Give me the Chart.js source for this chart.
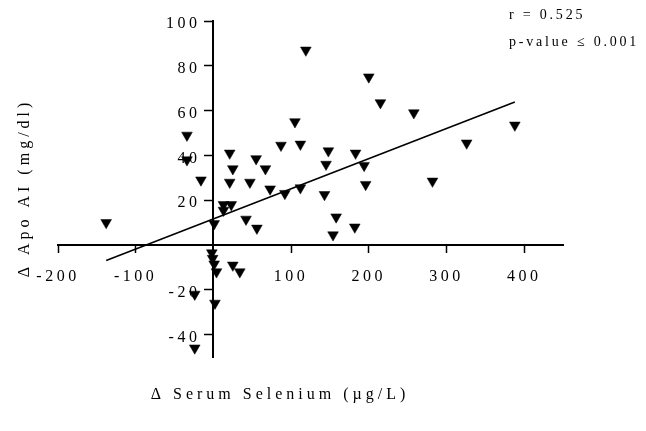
<!DOCTYPE html>
<html>
<head>
<meta charset="utf-8">
<script src="https://cdn.jsdelivr.net/npm/chart.js@4"></script>
<style>
html,body{margin:0;padding:0;background:#fff;}
#wrap{width:646px;height:431px;position:relative;}
</style>
</head>
<body>
<div id="wrap"><canvas id="c"></canvas></div>
<script>
// Δ Serum Selenium (µg/L) for each subject
const seleniumChange = [-34, -34, -16, 21, 25, 21, 47, 55, 67, 73, 87, 92, 105, 112, 112, 119, 143, 148, 145, 183, 194, 196, 200, 215, 258, 282, 326, 388, 158, 182, 154, -138, 13, 23, 13, 1, 42, 56, -2, -1, 1, 4, 25, 34, -24, 2, -24];
// Δ Apo AI (mg/dl) for each subject
const apoChange = [49, 38, 29, 41, 34, 28, 28, 38.5, 34, 25, 44.5, 23, 55, 45, 25.5, 87, 22.5, 42, 36, 41, 35.5, 27, 75, 63.5, 59, 28.5, 45.5, 53.5, 12.5, 8, 4.5, 10, 18, 18, 15.5, 9.5, 11.5, 7.5, -3.5, -6, -8.5, -12, -9, -12, -22, -26, -46];
// regression line end points
const fitX = [-138, 388];
const fitY = [-6.9, 63.8];
// tick labels
const xTickValues = [-200, -100, 100, 200, 300, 400];
const yTickValues = [-40, -20, 20, 40, 60, 80, 100];
const xTitle = 'Δ Serum Selenium (µg/L)';
const yTitle = 'Δ Apo AI (mg/dl)';
const statLines = ['r = 0.525', 'p-value ≤ 0.001'];

const FONT = "'Liberation Serif', 'Times New Roman', serif";

const spacingPlugin = {
  id: 'spacing',
  beforeLayout(chart) { chart.ctx.letterSpacing = '3.5px'; },
  afterUpdate(chart) {
    // y labels of an axis placed at a value are anchored on the axis line itself;
    // move them left of the tick marks
    const s = chart.scales.y;
    const items = s.getLabelItems(chart.chartArea);
    items.forEach(it => {
      if (!it._shifted) {
        it.options.translation[0] -= 13;
        it._shifted = true;
      }
    });
  },
  beforeDraw(chart) { chart.ctx.letterSpacing = '3.5px'; }
};

const textPlugin = {
  id: 'texts',
  afterDraw(chart) {
    const ctx = chart.ctx;
    const a = chart.chartArea;
    ctx.save();
    ctx.fillStyle = '#000';
    ctx.font = '16px ' + FONT;
    ctx.letterSpacing = '4px';
    ctx.textAlign = 'center';
    ctx.textBaseline = 'middle';
    ctx.fillText(xTitle, 280, a.bottom + 38);
    ctx.translate(25, 190);
    ctx.rotate(-Math.PI / 2);
    ctx.fillText(yTitle, 2, 0);
    ctx.restore();
    ctx.save();
    ctx.fillStyle = '#000';
    ctx.font = '14px ' + FONT;
    ctx.letterSpacing = '2.8px';
    ctx.textAlign = 'left';
    ctx.textBaseline = 'middle';
    ctx.fillText(statLines[0], 509, 15);
    ctx.fillText(statLines[1], 509, 42);
    ctx.restore();
  }
};

new Chart(document.getElementById('c'), {
  type: 'scatter',
  data: {
    datasets: [
      {
        data: seleniumChange.map((x, i) => ({ x: x, y: apoChange[i] })),
        pointStyle: 'triangle',
        rotation: 180,
        radius: 6.2,
        hoverRadius: 6.2,
        backgroundColor: '#000',
        borderColor: '#000',
        borderWidth: 0.5
      },
      {
        data: fitX.map((x, i) => ({ x: x, y: fitY[i] })),
        showLine: true,
        borderColor: '#000',
        borderWidth: 1.6,
        pointRadius: 0,
        fill: false,
        tension: 0
      }
    ]
  },
  options: {
    responsive: true,
    maintainAspectRatio: false,
    animation: false,
    events: [],
    layout: { padding: { left: 58, right: 83, top: 21, bottom: 74 } },
    plugins: { legend: { display: false }, tooltip: { enabled: false }, title: { display: false } },
    scales: {
      x: {
        type: 'linear',
        min: -200,
        max: 450,
        position: { y: 0 },
        afterBuildTicks: s => { s.ticks = xTickValues.map(v => ({ value: v })); },
        afterFit: s => { s.height = 0; },
        grid: { drawOnChartArea: false, drawTicks: true, tickLength: 7, tickColor: '#000', tickWidth: 1.5 },
        border: { display: true, color: '#000', width: 2 },
        ticks: { color: '#000', font: { family: FONT, size: 16 }, padding: 15, maxRotation: 0, autoSkip: false }
      },
      y: {
        type: 'linear',
        min: -50,
        max: 100,
        position: { x: 0 },
        afterBuildTicks: s => { s.ticks = yTickValues.map(v => ({ value: v })); },
        afterFit: s => { s.width = 0; },
        grid: { drawOnChartArea: false, drawTicks: true, tickLength: 8, tickColor: '#000', tickWidth: 1.5 },
        border: { display: true, color: '#000', width: 2 },
        ticks: { color: '#000', font: { family: FONT, size: 16 }, padding: 5, labelOffset: 3, autoSkip: false }
      }
    }
  },
  plugins: [spacingPlugin, textPlugin]
});
</script>
</body>
</html>
